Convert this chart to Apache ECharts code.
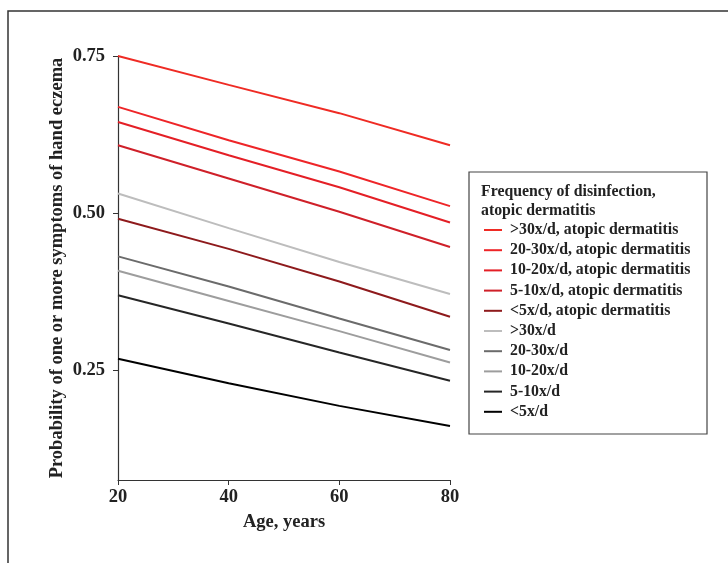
<!DOCTYPE html>
<html>
<head>
<meta charset="utf-8">
<script src="https://cdn.jsdelivr.net/npm/echarts@6/dist/echarts.min.js"></script>
<style>
html,body{margin:0;padding:0;background:#fff;}
#chart{width:728px;height:563px;}
</style>
</head>
<body>
<div id="chart"></div>
<script>
const ages = [20, 40, 60, 80];
const seriesNames = [
  '>30x/d, atopic dermatitis',
  '20-30x/d, atopic dermatitis',
  '10-20x/d, atopic dermatitis',
  '5-10x/d, atopic dermatitis',
  '<5x/d, atopic dermatitis',
  '>30x/d',
  '20-30x/d',
  '10-20x/d',
  '5-10x/d',
  '<5x/d'
];
const ad30plus = [0.750, 0.704, 0.659, 0.608];
const ad20to30 = [0.669, 0.616, 0.566, 0.511];
const ad10to20 = [0.645, 0.592, 0.541, 0.485];
const ad5to10  = [0.608, 0.555, 0.502, 0.446];
const adLt5    = [0.491, 0.443, 0.391, 0.335];
const f30plus  = [0.531, 0.476, 0.422, 0.371];
const f20to30  = [0.431, 0.383, 0.332, 0.282];
const f10to20  = [0.408, 0.360, 0.312, 0.262];
const f5to10   = [0.369, 0.324, 0.278, 0.233];
const fLt5     = [0.268, 0.229, 0.193, 0.161];
const seriesValues = [ad30plus, ad20to30, ad10to20, ad5to10, adLt5, f30plus, f20to30, f10to20, f5to10, fLt5];
const seriesColors = ['#ef2b24', '#ee2528', '#e41f26', '#cf2029', '#8e1a1c', '#bdbdbd', '#6b6b6b', '#9d9d9d', '#262626', '#000000'];
const yTicks = [0.25, 0.50, 0.75];
const xTicks = [20, 40, 60, 80];

const serif = '"Liberation Serif", "DejaVu Serif", serif';
const chart = echarts.init(document.getElementById('chart'));

const series = seriesNames.map((n, i) => ({
  name: n,
  type: 'line',
  data: ages.map((a, j) => [a, seriesValues[i][j]]),
  symbol: 'none',
  smooth: false,
  lineStyle: { color: seriesColors[i], width: 2 },
  itemStyle: { color: seriesColors[i] },
  z: 10 - i
}));

chart.setOption({
  animation: false,
  backgroundColor: '#fff',
  grid: { left: 118, right: 278, top: 56, bottom: 83, containLabel: false },
  xAxis: {
    type: 'value', min: 20, max: 80, interval: 20,
    name: 'Age, years', nameLocation: 'middle', nameGap: 33,
    nameTextStyle: { fontFamily: serif, fontWeight: 'bold', fontSize: 18.5, color: '#222' },
    axisLine: { lineStyle: { color: '#333', width: 1.2 } },
    axisTick: { show: true, inside: false, length: 5, customValues: xTicks, lineStyle: { color: '#333' } },
    axisLabel: { fontFamily: serif, fontWeight: 'bold', fontSize: 18.5, color: '#222', margin: 8, customValues: xTicks },
    splitLine: { show: false }
  },
  yAxis: {
    type: 'value', min: 0.075, max: 0.75,
    name: 'Probability of one or more symptoms of hand eczema',
    nameLocation: 'middle', nameRotate: 90, nameGap: 51,
    nameTextStyle: { fontFamily: serif, fontWeight: 'bold', fontSize: 18.5, color: '#222' },
    axisLine: { show: true, lineStyle: { color: '#333', width: 1.2 } },
    axisTick: { show: true, length: 5, customValues: yTicks, lineStyle: { color: '#333' } },
    axisLabel: { fontFamily: serif, fontWeight: 'bold', fontSize: 18.5, color: '#222', margin: 13,
      customValues: yTicks, formatter: v => v.toFixed(2) },
    splitLine: { show: false }
  },
  legend: {
    orient: 'vertical', left: 484, top: 222, padding: 0,
    data: seriesNames,
    icon: 'rect', itemWidth: 18, itemHeight: 2, itemGap: 4.2,
    textStyle: { fontFamily: serif, fontWeight: 'bold', fontSize: 15.8, color: '#222', lineHeight: 16, padding: [0,0,0,3] },
    selectedMode: false
  },
  graphic: [
    { type: 'rect', shape: { x: 8, y: 11, width: 760, height: 600 }, style: { fill: 'none', stroke: '#333', lineWidth: 1.5 }, silent: true },
    { type: 'rect', shape: { x: 469, y: 172, width: 238, height: 262 }, style: { fill: '#fff', stroke: '#444', lineWidth: 1.2 }, z: -1, silent: true },
    { type: 'text', left: 481, top: 183, style: { text: 'Frequency of disinfection,\natopic dermatitis', fontFamily: serif, fontWeight: 'bold', fontSize: 15.8, lineHeight: 18.5, fill: '#222' } }
  ],
  series: series
});
</script>
</body>
</html>
